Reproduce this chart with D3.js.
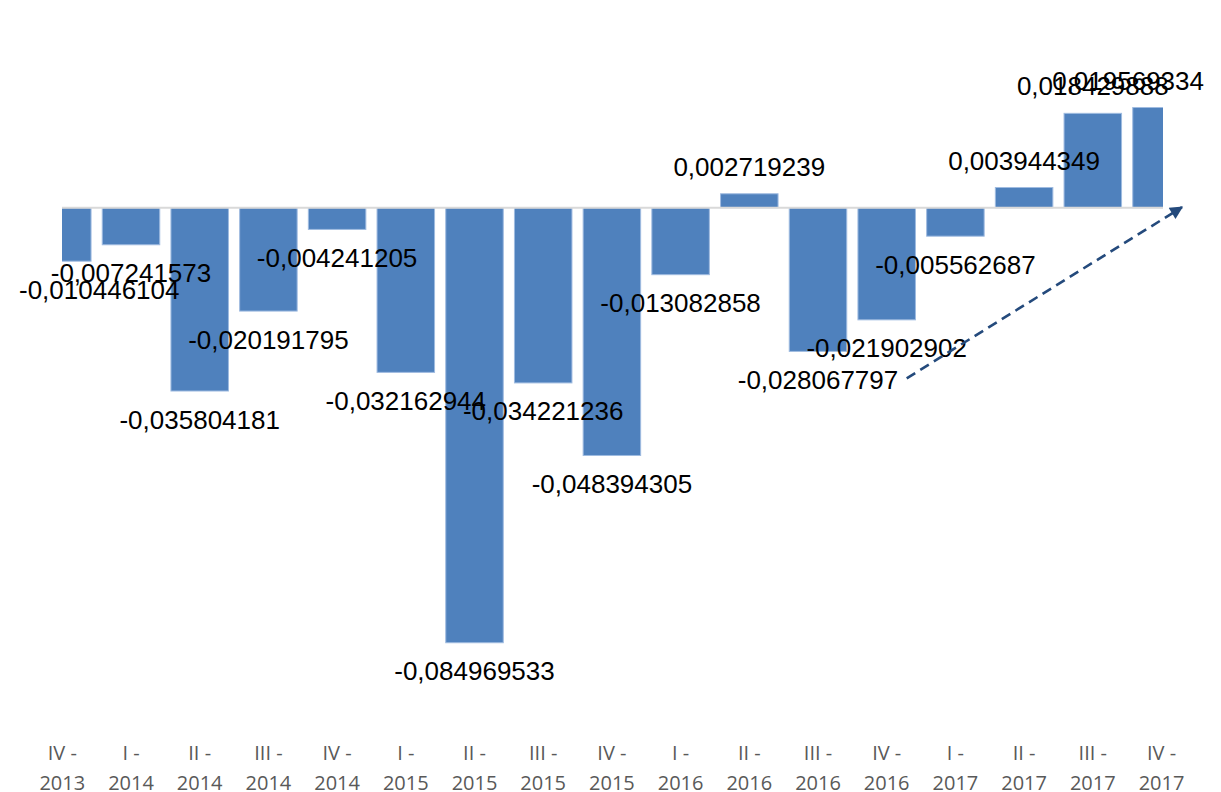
<!DOCTYPE html>
<html>
<head>
<meta charset="utf-8">
<script src="https://cdn.jsdelivr.net/npm/d3@7"></script>
<style>
html,body{margin:0;padding:0;background:#fff;}
svg{display:block;}
</style>
</head>
<body>
<svg id="chart" width="1221" height="792"></svg>
<script>
const quarters = ["IV","I","II","III","IV","I","II","III","IV","I","II","III","IV","I","II","III","IV"];
const years = ["2013","2014","2014","2014","2014","2015","2015","2015","2015","2016","2016","2016","2016","2017","2017","2017","2017"];
const values = [-0.010446104,-0.007241573,-0.035804181,-0.020191795,-0.004241205,-0.032162944,-0.084969533,-0.034221236,-0.048394305,-0.013082858,0.002719239,-0.028067797,-0.021902902,-0.005562687,0.003944349,0.018429888,0.019569334];
const valueLabels = ["-0,010446104","-0,007241573","-0,035804181","-0,020191795","-0,004241205","-0,032162944","-0,084969533","-0,034221236","-0,048394305","-0,013082858","0,002719239","-0,028067797","-0,021902902","-0,005562687","0,003944349","0,018429888","0,019569334"];
const yDomain = [-0.09, 0.03];

const cats = quarters.map((q,i)=> q + " - " + years[i]);
const data = cats.map((c,i)=>({cat:c, q:quarters[i], yr:years[i], v:values[i], label:valueLabels[i]}));

const svg = d3.select("#chart");
const plotL = 62.3, plotR = 1161.5;
const x = d3.scalePoint().domain(cats).range([plotL, plotR]);
const y = d3.scaleLinear().domain(yDomain).range([668.5, 54.1]);
const bw = x.step() * 0.837;

svg.append("defs").append("clipPath").attr("id","plotclip")
  .append("rect").attr("x",62).attr("y",0).attr("width",1163-62).attr("height",792);

const g = svg.append("g").attr("clip-path","url(#plotclip)");
g.selectAll("rect.bar").data(data).enter().append("rect")
  .attr("class","bar")
  .attr("x", d=> x(d.cat) - bw/2)
  .attr("width", bw)
  .attr("y", d=> Math.min(y(d.v), y(0)))
  .attr("height", d=> Math.abs(y(d.v) - y(0)))
  .attr("fill","#4F81BD")
  .attr("stroke","#9fbbe0")
  .attr("stroke-width",1);

// zero line
svg.append("line")
  .attr("x1",62).attr("x2",1163)
  .attr("y1",y(0)).attr("y2",y(0))
  .attr("stroke","#d9d9d9").attr("stroke-width",2);

// x axis labels (two lines)
const xa = svg.append("g").attr("font-family","'Open Sans', sans-serif").attr("font-size","20px").attr("fill","#595959").attr("text-anchor","middle");
const xl = xa.selectAll("text").data(data).enter().append("text")
  .attr("x", d=> x(d.cat));
xl.append("tspan").attr("x", d=> x(d.cat)).attr("y",760).text(d=> d.q + " -");
xl.append("tspan").attr("x", d=> x(d.cat)).attr("y",790).text(d=> d.yr);

// value labels
const lbl = svg.append("g").attr("font-family","'Liberation Sans', Arial, sans-serif").attr("font-size","26px").attr("fill","#000").attr("text-anchor","middle");
lbl.selectAll("text").data(data).enter().append("text")
  .attr("x", d=> x(d.cat))
  .attr("y", d=> d.v < 0 ? y(d.v) + 37.5 : y(d.v) - 18)
  .text(d=> d.label)
  .each(function(d){
    const w = this.getComputedTextLength();
    let cx = x(d.cat);
    if (cx - w/2 < 19) cx = 19 + w/2;
    if (cx + w/2 > 1204) cx = 1204 - w/2;
    d3.select(this).attr("x", cx);
  });

// trend arrow
const defs = svg.select("defs");
defs.append("marker").attr("id","ah").attr("viewBox","0 0 10 10")
  .attr("refX",9).attr("refY",5).attr("markerWidth",6).attr("markerHeight",5)
  .attr("markerUnits","strokeWidth").attr("orient","auto")
  .append("path").attr("d","M0,0 L10,5 L0,10 Z").attr("fill","#244a7c");
svg.append("line")
  .attr("x1",906.7).attr("y1",378.3).attr("x2",1182).attr("y2",207.2)
  .attr("stroke","#244a7c").attr("stroke-width",2.6)
  .attr("stroke-dasharray","10,6")
  .attr("marker-end","url(#ah)");
</script>
</body>
</html>
